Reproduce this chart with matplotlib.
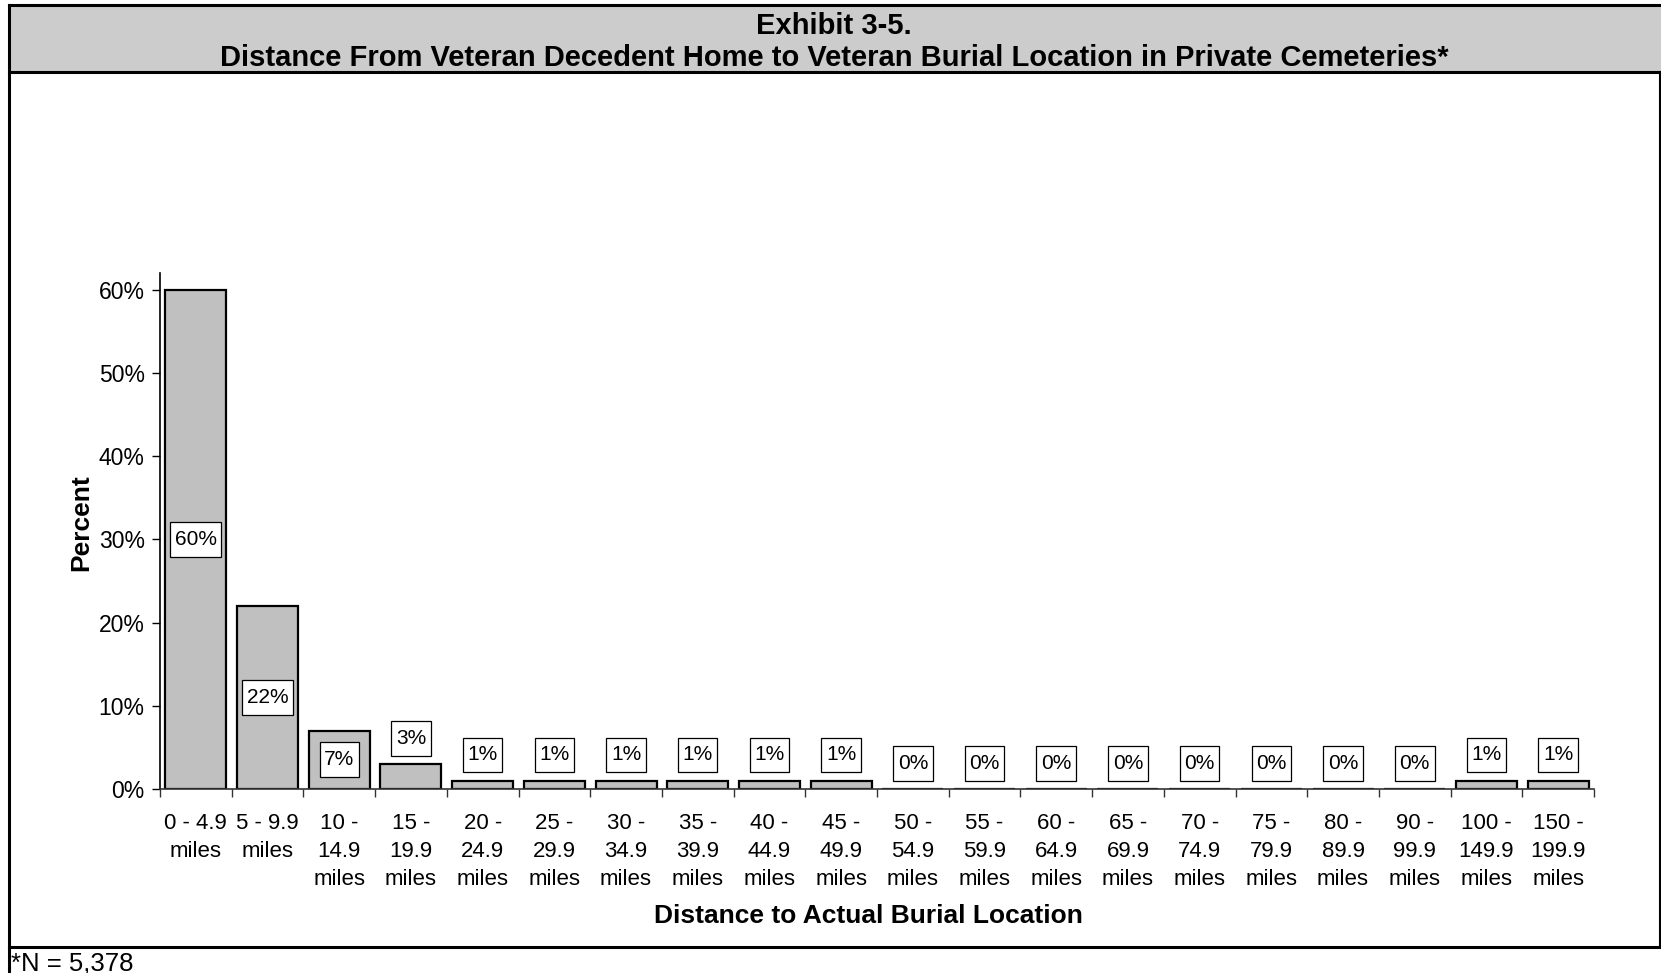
import matplotlib
matplotlib.use("Agg")
import matplotlib.pyplot as plt
from matplotlib.patches import Rectangle
from matplotlib.lines import Line2D
from matplotlib.path import Path

plt.rcParams["font.family"] = ["Liberation Sans", "DejaVu Sans"]

# distance bands and share of burials (percent)
bands = [
    "0 - 4.9\nmiles", "5 - 9.9\nmiles", "10 -\n14.9\nmiles", "15 -\n19.9\nmiles",
    "20 -\n24.9\nmiles", "25 -\n29.9\nmiles", "30 -\n34.9\nmiles", "35 -\n39.9\nmiles",
    "40 -\n44.9\nmiles", "45 -\n49.9\nmiles", "50 -\n54.9\nmiles", "55 -\n59.9\nmiles",
    "60 -\n64.9\nmiles", "65 -\n69.9\nmiles", "70 -\n74.9\nmiles", "75 -\n79.9\nmiles",
    "80 -\n89.9\nmiles", "90 -\n99.9\nmiles", "100 -\n149.9\nmiles", "150 -\n199.9\nmiles",
]
percents = [60, 22, 7, 3, 1, 1, 1, 1, 1, 1, 0, 0, 0, 0, 0, 0, 0, 0, 1, 1]
yticks = [0, 10, 20, 30, 40, 50, 60]

W, H = 1661, 973


def label_box(x0, y0, width, height, mutation_size):
    # plain rectangle, narrow side padding and taller top/bottom padding
    px, py = 0.22 * mutation_size, 0.38 * mutation_size
    x1, y1 = x0 + width + px, y0 + height + py
    x0, y0 = x0 - px, y0 - py
    return Path([(x0, y0), (x1, y0), (x1, y1), (x0, y1), (x0, y0)],
                [Path.MOVETO, Path.LINETO, Path.LINETO, Path.LINETO, Path.CLOSEPOLY])


fig = plt.figure(figsize=(W / 100, H / 100), dpi=100)

# page frame drawn in pixel coordinates
bg = fig.add_axes([0, 0, 1, 1], zorder=0)
bg.set_xlim(0, W)
bg.set_ylim(H, 0)
bg.axis("off")
bg.add_patch(Rectangle((8.5, 5), W - 8.5, 67, facecolor="#CCCCCC", edgecolor="none"))
frame_kw = dict(color="black", lw=2.2, solid_capstyle="projecting")
bg.add_line(Line2D([8.5, W], [5, 5], **frame_kw))
bg.add_line(Line2D([8.5, W], [72, 72], **frame_kw))
bg.add_line(Line2D([8.5, W], [947, 947], **frame_kw))
bg.add_line(Line2D([8.5, 8.5], [5, H], **frame_kw))
bg.add_line(Line2D([W - 1.5, W - 1.5], [72, 947], color="black", lw=1.5))

bg.text(834, 26, "Exhibit 3-5.", ha="center", va="center", fontsize=21, weight="bold")
bg.text(834, 58, "Distance From Veteran Decedent Home to Veteran Burial Location in Private Cemeteries*",
        ha="center", va="center", fontsize=21, weight="bold")
bg.text(11, 964, "*N = 5,378", ha="left", va="center", fontsize=18.5)

# chart
ax = fig.add_axes([160 / W, 1 - 789 / H, (1594 - 160) / W, (789 - 273) / H], zorder=1)
ax.set_facecolor("none")
x = list(range(len(bands)))
ax.bar(x, percents, width=0.85, color="#C0C0C0", edgecolor="black", linewidth=1.6, zorder=2)

ax.set_xlim(-0.5, len(bands) - 0.5)
ax.set_ylim(0, 62)
ax.set_yticks(yticks)
ax.set_yticklabels([f"{v}%" for v in yticks], fontsize=16.5)
ax.set_xticks(x)
ax.set_xticklabels(bands, fontsize=16, va="top", linespacing=1.45)
ax.set_xticks([i - 0.5 for i in range(len(bands) + 1)], minor=True)
ax.tick_params(axis="x", which="major", length=0, pad=17)
ax.tick_params(axis="x", which="minor", length=6, width=1, color="#333333", direction="out")
ax.tick_params(axis="y", length=6, width=1, direction="out", pad=5)
for side in ("top", "right"):
    ax.spines[side].set_visible(False)
ax.spines["left"].set_linewidth(1.2)
ax.spines["bottom"].set_linewidth(1.2)
ax.spines["bottom"].set_color("#333333")

box = dict(boxstyle=label_box, facecolor="white", edgecolor="black", linewidth=0.9)
for xi, v in zip(x, percents):
    if v >= 5:
        ax.annotate(f"{v}%", (xi, v / 2), ha="center", va="center", fontsize=15, bbox=box, zorder=3)
    else:
        ax.annotate(f"{v}%", (xi, v), xytext=(0, 11.7), textcoords="offset points",
                    ha="center", va="bottom", fontsize=15, bbox=box, zorder=3)

ax.set_ylabel("Percent", fontsize=19, weight="bold", va="center", ha="center")
ax.yaxis.set_label_coords(-0.055, 0.517)
ax.set_xlabel("Distance to Actual Burial Location", fontsize=19, weight="bold", va="center")
ax.xaxis.set_label_coords(0.494, -0.246)

fig.savefig("out.png", dpi=100)
